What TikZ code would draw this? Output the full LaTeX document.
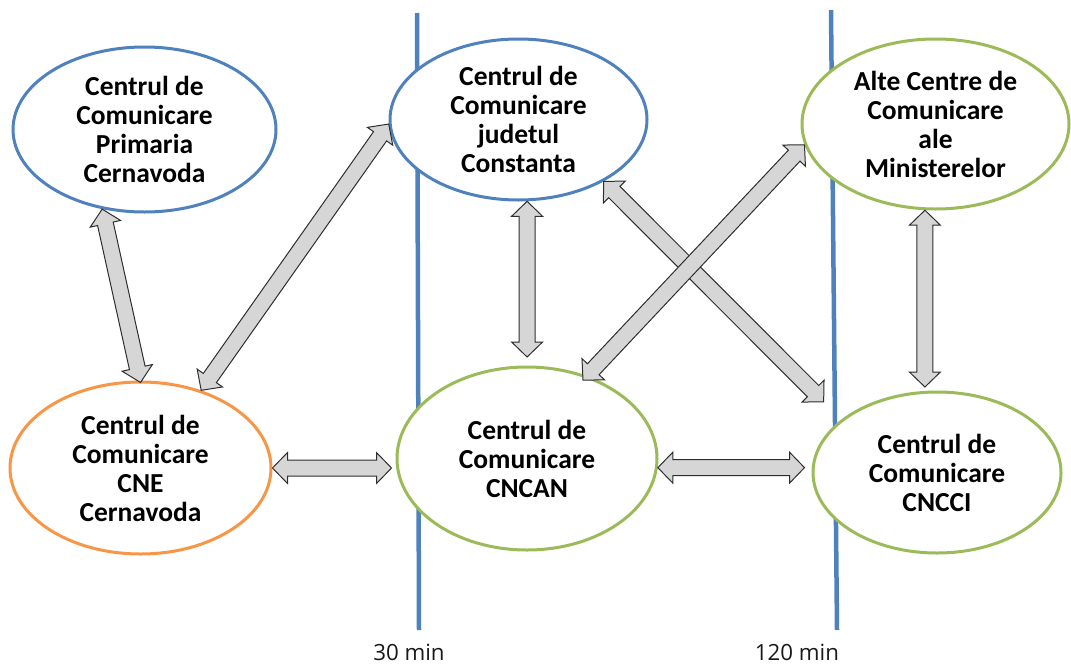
\documentclass[tikz,border=0pt]{standalone}
\usepackage{fontspec}
\setmainfont{Carlito}
\newfontfamily\labfont{Open Sans}
\usetikzlibrary{shapes.geometric,calc}
\definecolor{eblue}{HTML}{4F81BD}
\definecolor{eorange}{HTML}{F79646}
\definecolor{egreen}{HTML}{9BBB59}
\definecolor{arrfill}{HTML}{D6D6D6}
\definecolor{arrdraw}{HTML}{2E2E2E}
\newcommand\arrHL{15pt}
\newcommand\arrHW{15.5pt}
\newcommand\arrSW{8pt}
\newcommand\dblarr[2]{%
  \draw[blockarrow] (#1)
    -- ($(#1)!\arrHL!(#2)!\arrHW!90:(#2)$)
    -- ($(#1)!\arrHL!(#2)!\arrSW!90:(#2)$)
    -- ($(#2)!\arrHL!(#1)!\arrSW!-90:(#1)$)
    -- ($(#2)!\arrHL!(#1)!\arrHW!-90:(#1)$)
    -- (#2)
    -- ($(#2)!\arrHL!(#1)!\arrHW!90:(#1)$)
    -- ($(#2)!\arrHL!(#1)!\arrSW!90:(#1)$)
    -- ($(#1)!\arrHL!(#2)!\arrSW!-90:(#2)$)
    -- ($(#1)!\arrHL!(#2)!\arrHW!-90:(#2)$)
    -- cycle;}
\tikzset{
  ctr/.style={ellipse, draw, line width=3pt, fill=white, inner sep=-12pt,
    align=center, font=\fontsize{27.5}{29}\selectfont\bfseries},
  blockarrow/.style={fill=arrfill, draw=arrdraw, line width=1pt, line join=miter},
  timeline/.style={draw=eblue, line width=4.5pt},
  timelabel/.style={font=\labfont\fontsize{22.3}{26}\selectfont, text=black!90, inner sep=0pt}
}
\begin{document}
\begin{tikzpicture}[x=1pt,y=-1pt]
\useasboundingbox (0,0) rectangle (1071,664);
% time lines
\coordinate (t1a) at (417,13);
\coordinate (t1b) at (419,630);
\coordinate (t2a) at (831,10);
\coordinate (t2b) at (837,630);
\draw[timeline] (t1a) -- (t1b);
\draw[timeline] (t2a) -- (t2b);
\node[timelabel] (l30) at (409,652) {30 min};
\node[timelabel] (l120) at (797,652) {120 min};
% centres
\node[ctr, draw=eblue, minimum width=263pt, minimum height=165pt] (e1) at (144.5,129.5)
  {Centrul de\\Comunicare\\Primaria\\Cernavoda};
\node[ctr, draw=eblue, minimum width=257pt, minimum height=161pt] (e2) at (518.5,119.5)
  {Centrul de\\Comunicare\\judetul\\Constanta};
\node[ctr, draw=egreen, minimum width=267pt, minimum height=170pt] (e3) at (935.5,124)
  {Alte Centre de\\Comunicare\\ale\\Ministerelor};
\node[ctr, draw=eorange, minimum width=261pt, minimum height=172pt] (e4) at (140.5,468)
  {Centrul de\\Comunicare\\CNE\\Cernavoda};
\node[ctr, draw=egreen, minimum width=260pt, minimum height=183pt] (e5) at (527,458.5)
  {Centrul de\\Comunicare\\CNCAN};
\node[ctr, draw=egreen, minimum width=248pt, minimum height=161pt] (e6) at (937,472.5)
  {Centrul de\\Comunicare\\CNCCI};
% arrow ends
\coordinate (a1s) at (e1.242);
\coordinate (a1e) at ($(e4.90)+(0,2)$);
\coordinate (a2s) at (e4.52);
\coordinate (a2e) at (e2.182);
\coordinate (a3s) at (e4.0);
\coordinate (a3e) at ($(e4.0 -| e5.west)+(-4,0)$);
\coordinate (a4s) at (e2.276);
\coordinate (a4e) at ($(e2.276 |- e5.north)+(0,-8.5)$);
\coordinate (a5s) at (e2.324);
\coordinate (a5e) at ($(e6.151)!25pt!(e2.324)$);
\coordinate (a6s) at ($(e5.54)!-6pt!(e3.189)$);
\coordinate (a6e) at (e3.189);
\coordinate (a7s) at (e3.263);
\coordinate (a7e) at ($(e3.263 |- e6.north)+(0,-3.5)$);
\coordinate (a8s) at (e5.-4);
\coordinate (a8e) at ($(e5.-4 -| e6.west)+(-7,0)$);
% arrows
\dblarr{a1s}{a1e}
\dblarr{a2s}{a2e}
\dblarr{a3s}{a3e}
\dblarr{a4s}{a4e}
\dblarr{a5s}{a5e}
\dblarr{a6s}{a6e}
\dblarr{a7s}{a7e}
\dblarr{a8s}{a8e}
\end{tikzpicture}
\end{document}
